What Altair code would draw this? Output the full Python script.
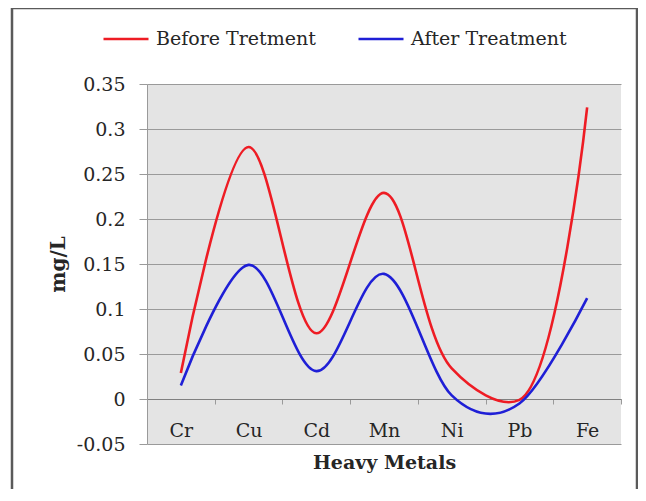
import altair as alt
import pandas as pd

metals = ["Cr", "Cu", "Cd", "Mn", "Ni", "Pb", "Fe"]
before_treatment = [0.029, 0.280, 0.073, 0.229, 0.034, -0.001, 0.324]
after_treatment = [0.015, 0.149, 0.031, 0.139, 0.004, -0.005, 0.112]
series_names = ["Before Tretment", "After Treatment"]
series_colors = ["#ee1c24", "#1f1fd6"]
y_ticks = [-0.05, 0, 0.05, 0.1, 0.15, 0.2, 0.25, 0.3, 0.35]

rows = []
for m, b, a in zip(metals, before_treatment, after_treatment):
    rows.append({"metal": m, "series": series_names[0], "value": b})
    rows.append({"metal": m, "series": series_names[1], "value": a})
df = pd.DataFrame(rows)

FONT = "DejaVu Serif"
TXT = "#262626"
GRID = "#9a9a9a"
W, H = 474, 360

x_enc = alt.X(
    "metal:N",
    sort=metals,
    scale=alt.Scale(type="band", paddingInner=0, paddingOuter=0),
    axis=alt.Axis(
        title="Heavy Metals",
        offset=-45,
        labelAngle=0,
        tickBand="extent",
        tickSize=5,
        tickColor=GRID,
        domainColor="#808080",
        labelPadding=17,
        labelFont=FONT,
        labelFontSize=19,
        labelColor=TXT,
        titleFont=FONT,
        titleFontSize=19,
        titleFontWeight="bold",
        titleColor=TXT,
        titlePadding=13,
        grid=False,
    ),
)

y_enc = alt.Y(
    "value:Q",
    scale=alt.Scale(domain=[-0.05, 0.35], nice=False, zero=False),
    axis=alt.Axis(
        title="mg/L",
        values=y_ticks,
        labelExpr="datum.value < 0 ? '-' + format(-datum.value, '.2~f') : format(datum.value, '.2~f')",
        tickSize=8,
        tickColor=GRID,
        domainColor=GRID,
        gridColor=GRID,
        gridWidth=1,
        labelPadding=14,
        labelFont=FONT,
        labelFontSize=19,
        labelColor=TXT,
        titleFont=FONT,
        titleFontSize=20,
        titleFontWeight="bold",
        titleColor=TXT,
        titlePadding=8,
    ),
)

color_enc = alt.Color(
    "series:N",
    scale=alt.Scale(domain=series_names, range=series_colors),
    legend=alt.Legend(
        title=None,
        orient="none",
        direction="horizontal",
        legendX=-45,
        legendY=-69,
        symbolType="stroke",
        symbolSize=2025,
        symbolStrokeWidth=2.6,
        labelFont=FONT,
        labelFontSize=19,
        labelColor=TXT,
        labelOffset=6,
        columnPadding=37,
    ),
)

base = alt.Chart(df).encode(x=x_enc, y=y_enc, color=color_enc)

before_line = base.transform_filter(
    alt.datum.series == series_names[0]
).mark_line(interpolate="catmull-rom", strokeWidth=2.6)

after_line = base.transform_filter(
    alt.datum.series == series_names[1]
).mark_line(interpolate="cardinal", strokeWidth=2.6)

frame = alt.Chart(pd.DataFrame({"k": [0]})).mark_rect(
    filled=False, stroke="#5a5a5a", strokeWidth=2.5, clip=False
).encode(
    x=alt.value(-135),
    x2=alt.value(490),
    y=alt.value(-76),
    y2=alt.value(420),
)

chart = alt.layer(before_line, after_line, frame).properties(
    width=W,
    height=H,
    autosize=alt.AutoSizeParams(type="none"),
    padding={"left": 139, "top": 76, "right": 17, "bottom": 45},
    background="white",
).configure_view(fill="#e4e4e4", strokeWidth=0)

chart.save("out.html", embed_options={"renderer": "svg", "actions": False})
